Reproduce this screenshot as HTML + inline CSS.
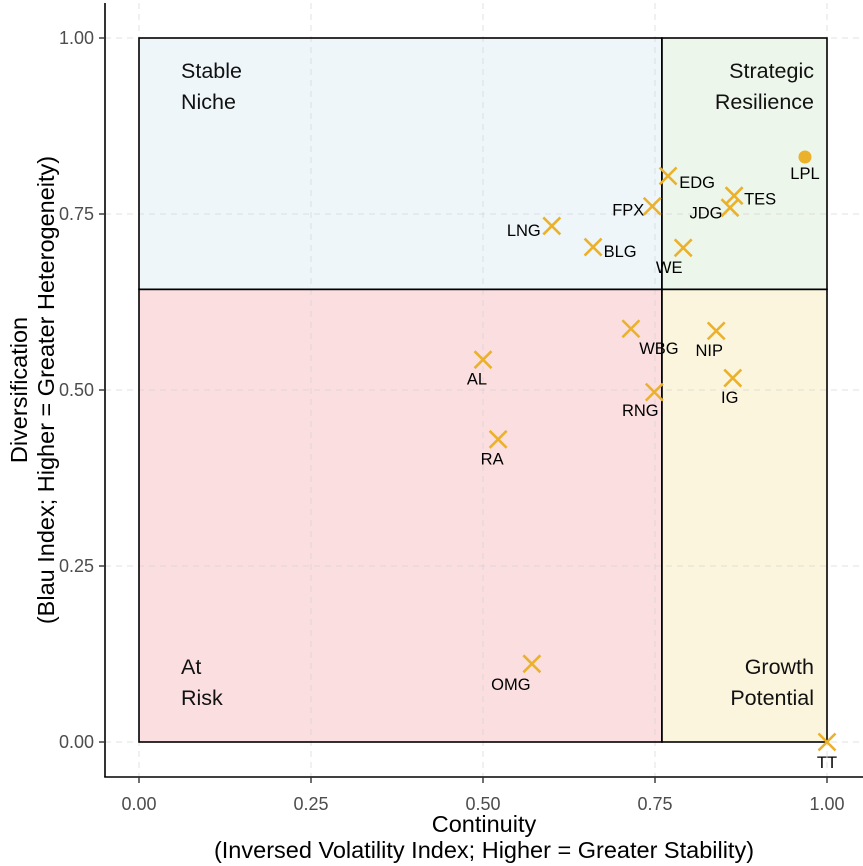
<!DOCTYPE html>
<html><head><meta charset="utf-8"><style>
html,body{margin:0;padding:0;background:#fff;}
svg{display:block;font-family:"Liberation Sans",Arial,sans-serif;}
</style></head><body>
<svg id="chart" width="863" height="866" viewBox="0 0 863 866" xmlns="http://www.w3.org/2000/svg">
<g id="fills"></g><g id="grid"></g><g id="borders"></g><g id="axes"></g><g id="quadlabels"></g><g id="points"></g>
</svg>
<script>
const teams = ["EDG","FPX","TES","JDG","LPL","LNG","BLG","WE","WBG","NIP","AL","RNG","IG","RA","OMG","TT"];
const continuity = [0.769,0.746,0.865,0.859,0.968,0.600,0.660,0.791,0.715,0.839,0.500,0.749,0.863,0.522,0.571,1.000];
const diversification = [0.804,0.761,0.776,0.759,0.831,0.733,0.703,0.702,0.587,0.584,0.543,0.497,0.517,0.430,0.111,0.000];
const isAggregate = [false,false,false,false,true,false,false,false,false,false,false,false,false,false,false,false];
const xTicks = [0,0.25,0.5,0.75,1];
const yTicks = [0,0.25,0.5,0.75,1];
const xTickLabels = ["0.00","0.25","0.50","0.75","1.00"];
const yTickLabels = ["0.00","0.25","0.50","0.75","1.00"];
const xThreshold = 0.76;
const yThreshold = 0.643;
// label placement (pixel offsets, layout only)
const labelDx = [29,-24,26,-24,0,-28,27,-14,28,-7,-6,-14,-3,-6,-21,0];
const labelDy = [6,3,3,5,16,4,4,19,19,19,19,18,19,19,20,20];

const NS="http://www.w3.org/2000/svg";
const X = v => 139 + v*688;
const Y = v => 742 - v*704;
function mk(tag, attrs, parent, text){const e=document.createElementNS(NS,tag);for(const k in attrs)e.setAttribute(k,attrs[k]);if(text!==undefined)e.textContent=text;parent.appendChild(e);return e;}
const fills=document.getElementById('fills'),grid=document.getElementById('grid'),borders=document.getElementById('borders'),axes=document.getElementById('axes'),ql=document.getElementById('quadlabels'),pts=document.getElementById('points');

const quads=[
 {n:'stable-niche-quadrant',x0:0,x1:xThreshold,y0:yThreshold,y1:1,c:'#eef6fa'},
 {n:'strategic-resilience-quadrant',x0:xThreshold,x1:1,y0:yThreshold,y1:1,c:'#edf6ea'},
 {n:'at-risk-quadrant',x0:0,x1:xThreshold,y0:0,y1:yThreshold,c:'#fbdfe0'},
 {n:'growth-potential-quadrant',x0:xThreshold,x1:1,y0:0,y1:yThreshold,c:'#faf5dc'}];
quads.forEach(q=>{
 const r=mk('rect',{x:X(q.x0),y:Y(q.y1),width:X(q.x1)-X(q.x0),height:Y(q.y0)-Y(q.y1),fill:q.c},fills);
 
 
});
xTicks.forEach(t=>{const l=mk('line',{x1:X(t),x2:X(t),y1:3,y2:777,stroke:'#cfcfcf','stroke-opacity':0.6,'stroke-dasharray':'6 5','stroke-width':1},grid);
 
 });
yTicks.forEach(t=>{const l=mk('line',{x1:105,x2:863,y1:Y(t),y2:Y(t),stroke:'#cfcfcf','stroke-opacity':0.6,'stroke-dasharray':'6 5','stroke-width':1},grid);
 
 });
quads.forEach(q=>{mk('rect',{x:X(q.x0),y:Y(q.y1),width:X(q.x1)-X(q.x0),height:Y(q.y0)-Y(q.y1),fill:'none',stroke:'#000','stroke-width':1.6},borders);});

// axes
const ya=mk('line',{x1:105,x2:105,y1:3,y2:777,stroke:'#000','stroke-width':1.6},axes);


const xa=mk('line',{x1:104.2,x2:863,y1:777,y2:777,stroke:'#000','stroke-width':1.6},axes);


xTicks.forEach((t,i)=>{mk('line',{x1:X(t),x2:X(t),y1:777,y2:783,stroke:'#333','stroke-width':1.4},axes);
 const tx=mk('text',{x:X(t),y:810,'text-anchor':'middle','font-size':18,fill:'#4d4d4d'},axes,xTickLabels[i]);
 
 });
yTicks.forEach((t,i)=>{mk('line',{x1:99,x2:105,y1:Y(t),y2:Y(t),stroke:'#333','stroke-width':1.4},axes);
 const tx=mk('text',{x:94,y:Y(t)+6,'text-anchor':'end','font-size':18,fill:'#4d4d4d'},axes,yTickLabels[i]);
 
 });
const xt=mk('g',{},axes);
mk('text',{x:484,y:832,'text-anchor':'middle','font-size':23.5,fill:'#000'},xt,'Continuity');
mk('text',{x:484,y:858,'text-anchor':'middle','font-size':23.5,fill:'#000'},xt,'(Inversed Volatility Index; Higher = Greater Stability)');
const yt=mk('g',{transform:'translate(0,390) rotate(-90)'},axes);
mk('text',{x:0,y:27,'text-anchor':'middle','font-size':23.5,fill:'#000'},yt,'Diversification');
mk('text',{x:0,y:54,'text-anchor':'middle','font-size':23.5,fill:'#000'},yt,'(Blau Index; Higher = Greater Heterogeneity)');

// quadrant labels
[['Stable','Niche',181,78,'start','stable-niche-label'],['Strategic','Resilience',814,78,'end','strategic-resilience-label'],
 ['At','Risk',181,674,'start','at-risk-label'],['Growth','Potential',814,674,'end','growth-potential-label']].forEach(a=>{
 const g=mk('g',{},ql);
 
 
 mk('text',{x:a[2],y:a[3],'text-anchor':a[4],'font-size':21.5,fill:'#111'},g,a[0]);
 mk('text',{x:a[2],y:a[3]+31,'text-anchor':a[4],'font-size':21.5,fill:'#111'},g,a[1]);
});

// points
const col='#EBB12B';
teams.forEach((t,i)=>{
 const cx=X(continuity[i]),cy=Y(diversification[i]);
 const g=mk('g',{},pts);
 
 
 if(isAggregate[i]){mk('circle',{cx:cx,cy:cy,r:6.5,fill:col},g);}
 else{const s=8.5;
  mk('path',{d:`M${cx-s},${cy-s}L${cx+s},${cy+s}M${cx-s},${cy+s}L${cx+s},${cy-s}`,stroke:col,'stroke-width':2.6,fill:'none'},g);}
 const lb=mk('text',{x:cx+labelDx[i],y:cy+labelDy[i]+6,'text-anchor':'middle','font-size':16.5,fill:'#000'},g,t);
 
 
});
</script>
</body></html>
